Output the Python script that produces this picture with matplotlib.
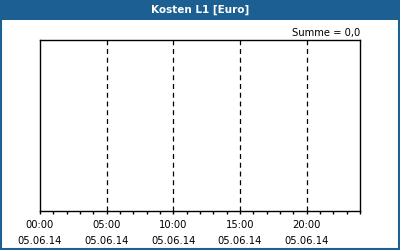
import matplotlib
matplotlib.use("Agg")
import matplotlib.pyplot as plt
from matplotlib.patches import Rectangle

# Chart data: no cost values recorded for the day
title = "Kosten L1 [Euro]"
hours = []
costs = []
major_hours = [0, 5, 10, 15, 20]
time_labels = ["00:00", "05:00", "10:00", "15:00", "20:00"]
date_labels = ["05.06.14"] * 5
total_label = "Summe = 0,0"

BLUE = "#1c5f93"
W, H = 400, 250

fig = plt.figure(figsize=(4, 2.5), dpi=100)
fig.patch.set_facecolor("white")

# title bar and frame
fig.patches.append(Rectangle((0, 1 - 20 / H), 1, 20 / H, transform=fig.transFigure,
                             facecolor=BLUE, edgecolor="none", zorder=0))
fig.patches.append(Rectangle((0.5 / W, 1 / H), 1 - 2 / W, 1 - 1.5 / H, transform=fig.transFigure,
                             facecolor="none", edgecolor=BLUE, linewidth=1.5, zorder=5))
fig.text(0.5, 1 - 10 / H, title, color="white", fontsize=7.5, fontweight="bold",
         ha="center", va="center", family="DejaVu Sans")

ax = fig.add_axes([40 / W, 1 - 211 / H, 320 / W, 171 / H])
ax.plot(hours, costs, color=BLUE)
ax.set_xlim(0, 24)
ax.set_ylim(0, 1)
ax.set_yticks([])
ax.set_xticks(major_hours)
ax.set_xticklabels([f"{t}\n{d}" for t, d in zip(time_labels, date_labels)],
                   fontsize=7.2, linespacing=1.75)
ax.set_xticks(range(25), minor=True)
ax.tick_params(axis="x", which="both", direction="out", length=2.5, width=1, pad=4, color="black")
for sp in ax.spines.values():
    sp.set_linewidth(1)
    sp.set_color("black")
for h in major_hours[1:]:
    ax.axvline(h, color="black", linestyle=(0, (4, 3)), linewidth=0.9)

fig.text(360 / W, 1 - 33 / H, total_label, fontsize=7.2, ha="right", va="center")

fig.savefig("out.png", dpi=100)
